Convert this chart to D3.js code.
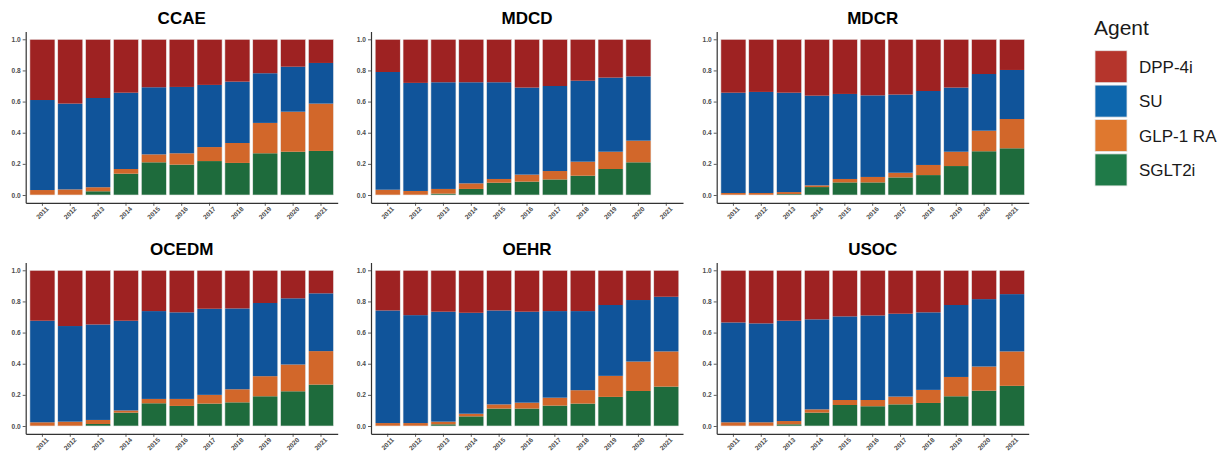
<!DOCTYPE html>
<html>
<head>
<meta charset="utf-8">
<script src="https://cdn.jsdelivr.net/npm/d3@7"></script>
<style>
  body { margin: 0; background: #fff; }
  svg { font-family: "Liberation Sans", Arial, sans-serif; }
</style>
</head>
<body>
<svg id="chart" width="1227" height="451"></svg>
<script>
// years on the x axis, agents stacked bottom -> top
const years = ["2011","2012","2013","2014","2015","2016","2017","2018","2019","2020","2021"];
const agents = ["SGLT2i", "GLP-1 RA", "SU", "DPP-4i"];
const legendOrder = ["DPP-4i", "SU", "GLP-1 RA", "SGLT2i"];
const barColors = ["#1e6b3c", "#d2672a", "#10549a", "#9e2222"];
const keyColors = ["#1f7a48", "#df782f", "#0e67ad", "#b5352c"];
const yTicks = [0, 0.2, 0.4, 0.6, 0.8, 1.0];

// share of each agent per year (null = no data)
const ccae = {
  "SGLT2i":   [0, 0, 0.024, 0.137, 0.21, 0.195, 0.218, 0.206, 0.268, 0.278, 0.283],
  "GLP-1 RA": [0.032, 0.036, 0.026, 0.03, 0.051, 0.073, 0.09, 0.128, 0.195, 0.257, 0.304],
  "SU":       [0.578, 0.551, 0.573, 0.49, 0.431, 0.426, 0.399, 0.394, 0.319, 0.289, 0.261],
  "DPP-4i":   [0.39, 0.413, 0.377, 0.343, 0.308, 0.306, 0.293, 0.272, 0.218, 0.176, 0.152]
};
const mdcd = {
  "SGLT2i":   [0, 0, 0.009, 0.039, 0.079, 0.086, 0.1, 0.124, 0.167, 0.21, null],
  "GLP-1 RA": [0.034, 0.026, 0.03, 0.036, 0.024, 0.045, 0.054, 0.09, 0.111, 0.139, null],
  "SU":       [0.756, 0.694, 0.685, 0.649, 0.621, 0.559, 0.546, 0.52, 0.476, 0.413, null],
  "DPP-4i":   [0.21, 0.28, 0.276, 0.276, 0.276, 0.31, 0.3, 0.266, 0.246, 0.238, null]
};
const mdcr = {
  "SGLT2i":   [0, 0, 0.006, 0.051, 0.081, 0.081, 0.113, 0.128, 0.186, 0.281, 0.3],
  "GLP-1 RA": [0.013, 0.013, 0.013, 0.011, 0.022, 0.035, 0.03, 0.065, 0.092, 0.132, 0.188],
  "SU":       [0.644, 0.649, 0.638, 0.576, 0.546, 0.524, 0.502, 0.475, 0.412, 0.364, 0.315],
  "DPP-4i":   [0.343, 0.338, 0.343, 0.362, 0.351, 0.36, 0.355, 0.332, 0.31, 0.223, 0.197]
};
const ocedm = {
  "SGLT2i":   [0, 0, 0.013, 0.086, 0.146, 0.129, 0.144, 0.152, 0.191, 0.223, 0.266],
  "GLP-1 RA": [0.024, 0.028, 0.026, 0.014, 0.028, 0.045, 0.056, 0.084, 0.129, 0.172, 0.215],
  "SU":       [0.652, 0.614, 0.613, 0.576, 0.564, 0.556, 0.553, 0.519, 0.47, 0.425, 0.371],
  "DPP-4i":   [0.324, 0.358, 0.348, 0.324, 0.262, 0.27, 0.247, 0.245, 0.21, 0.18, 0.148]
};
const oehr = {
  "SGLT2i":   [0, 0, 0.011, 0.062, 0.112, 0.112, 0.131, 0.144, 0.187, 0.225, 0.253],
  "GLP-1 RA": [0.019, 0.019, 0.017, 0.017, 0.027, 0.038, 0.051, 0.086, 0.135, 0.189, 0.226],
  "SU":       [0.723, 0.693, 0.706, 0.648, 0.603, 0.584, 0.556, 0.508, 0.455, 0.395, 0.351],
  "DPP-4i":   [0.258, 0.288, 0.266, 0.273, 0.258, 0.266, 0.262, 0.262, 0.223, 0.191, 0.17]
};
const usoc = {
  "SGLT2i":   [0, 0, 0.011, 0.086, 0.135, 0.127, 0.139, 0.148, 0.191, 0.227, 0.258],
  "GLP-1 RA": [0.024, 0.024, 0.021, 0.021, 0.032, 0.04, 0.05, 0.084, 0.124, 0.155, 0.221],
  "SU":       [0.641, 0.635, 0.644, 0.578, 0.537, 0.543, 0.532, 0.498, 0.462, 0.433, 0.368],
  "DPP-4i":   [0.335, 0.341, 0.324, 0.315, 0.296, 0.29, 0.279, 0.27, 0.223, 0.185, 0.153]
};

const panels = [
  {name: "CCAE",  data: ccae,  x: 25.7,  y: 31.5},
  {name: "MDCD",  data: mdcd,  x: 371,   y: 31.5},
  {name: "MDCR",  data: mdcr,  x: 716.7, y: 31.5},
  {name: "OCEDM", data: ocedm, x: 25.7,  y: 262.5},
  {name: "OEHR",  data: oehr,  x: 371,   y: 262.5},
  {name: "USOC",  data: usoc,  x: 716.7, y: 262.5}
];
const pw = 312, ph = 171.3;

const svg = d3.select("#chart");
const color = d3.scaleOrdinal().domain(agents).range(barColors);
const keyColor = d3.scaleOrdinal().domain(agents).range(keyColors);

const x = d3.scaleBand().domain(years).range([0, pw]).paddingInner(0.1).paddingOuter(0.15);
const y = d3.scaleLinear().domain([-0.05, 1.05]).range([ph, 0]);
const stack = d3.stack().keys(agents);

panels.forEach(p => {
  const g = svg.append("g").attr("transform", `translate(${p.x},${p.y})`);

  const rows = years.map((yr, i) => {
    const r = {year: yr};
    agents.forEach(a => r[a] = p.data[a][i]);
    return r;
  }).filter(r => r[agents[0]] != null);

  const series = stack(rows);

  g.selectAll("g.layer")
    .data(series)
    .enter().append("g")
      .attr("class", "layer")
      .attr("fill", d => color(d.key))
    .selectAll("rect")
    .data(d => d)
    .enter().append("rect")
      .attr("x", d => x(d.data.year))
      .attr("width", x.bandwidth())
      .attr("y", d => y(d[1]))
      .attr("height", d => Math.max(0, y(d[0]) - y(d[1])));

  // light outline around whole bars
  g.selectAll("rect.outline")
    .data(rows)
    .enter().append("rect")
      .attr("class", "outline")
      .attr("x", d => x(d.year))
      .attr("width", x.bandwidth())
      .attr("y", y(1))
      .attr("height", y(0) - y(1))
      .attr("fill", "none")
      .attr("stroke", "#ececec")
      .attr("stroke-width", 0.6);

  const yAxis = g.append("g")
    .call(d3.axisLeft(y).tickValues(yTicks).tickFormat(d3.format(".1f")).tickSize(3).tickSizeOuter(0).tickPadding(2));
  const xAxis = g.append("g")
    .attr("transform", `translate(0,${ph})`)
    .call(d3.axisBottom(x).tickSize(3).tickSizeOuter(0).tickPadding(2));

  [yAxis, xAxis].forEach(ax => {
    ax.select(".domain").attr("stroke", "#333").attr("stroke-width", 1.2);
    ax.selectAll(".tick line").attr("stroke", "#333").attr("stroke-width", 0.8);
    ax.selectAll(".tick text")
      .attr("fill", "#4d4d4d")
      .attr("font-size", 6.6)
      .attr("font-weight", "bold")
      .attr("font-family", "Liberation Sans, Arial, sans-serif");
  });

  xAxis.selectAll(".tick text")
    .attr("text-anchor", "end")
    .attr("y", 0)
    .attr("dy", "0.35em")
    .attr("transform", "translate(5,5) rotate(-45)");

  g.append("text")
    .attr("x", pw / 2)
    .attr("y", -7.5)
    .attr("text-anchor", "middle")
    .attr("font-size", 17)
    .attr("font-weight", "bold")
    .attr("fill", "#000")
    .text(p.name);
});

// legend
const lg = svg.append("g").attr("transform", "translate(1094,0)");
lg.append("text")
  .attr("x", 0).attr("y", 35)
  .attr("font-size", 21)
  .attr("fill", "#1a1a1a")
  .text("Agent");

const item = lg.selectAll("g.item")
  .data(legendOrder)
  .enter().append("g")
    .attr("class", "item")
    .attr("transform", (d, i) => `translate(1,${50.7 + i * 34.4})`);

item.append("rect")
  .attr("width", 32).attr("height", 32)
  .attr("fill", d => keyColor(d))
  .attr("stroke", "#e6e6e6")
  .attr("stroke-width", 0.8);

item.append("text")
  .attr("x", 44).attr("y", 16)
  .attr("dy", "0.36em")
  .attr("font-size", 17)
  .attr("fill", "#1a1a1a")
  .text(d => d);
</script>
</body>
</html>
